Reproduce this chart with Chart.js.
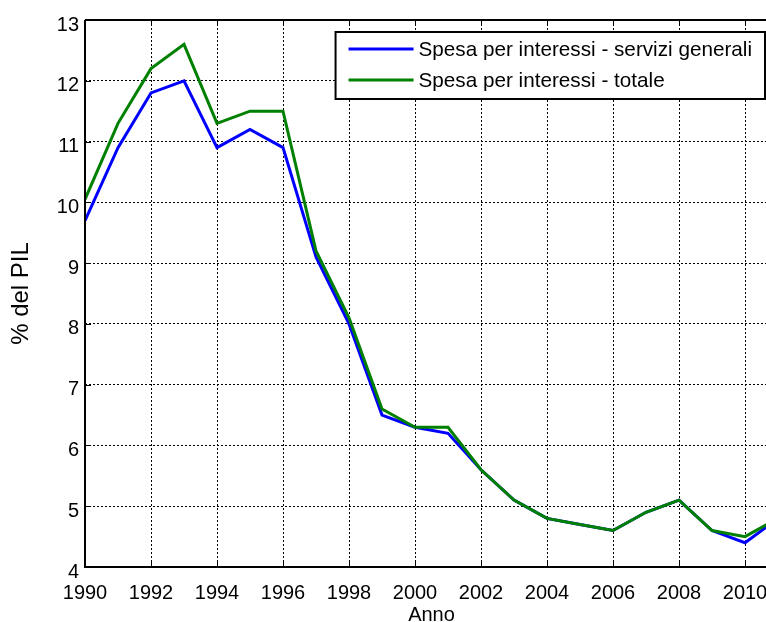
<!DOCTYPE html>
<html>
<head>
<meta charset="utf-8">
<script src="https://cdn.jsdelivr.net/npm/chart.js@4.4.1/dist/chart.umd.min.js"></script>
<style>
html,body{margin:0;padding:0;background:#fff;overflow:hidden;width:766px;height:622px;}
canvas{display:block;}
</style>
</head>
<body>
<canvas id="c" width="800" height="622"></canvas>
<script>
const years = [1990,1991,1992,1993,1994,1995,1996,1997,1998,1999,2000,2001,2002,2003,2004,2005,2006,2007,2008,2009,2010,2011];
const serviziGenerali = [9.7,10.9,11.8,12.0,10.9,11.2,10.9,9.1,8.0,6.5,6.3,6.2,5.6,5.1,4.8,4.7,4.6,4.9,5.1,4.6,4.4,4.8];
const totale = [10.05,11.3,12.2,12.6,11.3,11.5,11.5,9.2,8.1,6.6,6.3,6.3,5.6,5.1,4.8,4.7,4.6,4.9,5.1,4.6,4.5,4.8];
const xTickValues = [1990,1992,1994,1996,1998,2000,2002,2004,2006,2008,2010];
const yTickValues = [4,5,6,7,8,9,10,11,12,13];
const seriesLabels = ['Spesa per interessi - servizi generali','Spesa per interessi - totale'];
const seriesColors = ['#0000ff','#008000'];

const FONT = "'Liberation Sans', Arial, Helvetica, sans-serif";

const boxPlugin = {
  id: 'boxPlugin',
  afterDatasetsDraw(chart) {
    const {ctx, chartArea: a, scales} = chart;
    ctx.save();
    ctx.strokeStyle = '#000';
    ctx.lineWidth = 2;
    ctx.beginPath();
    ctx.moveTo(a.left, a.top); ctx.lineTo(a.left, a.bottom); ctx.lineTo(a.right, a.bottom);
    ctx.moveTo(a.left, a.top); ctx.lineTo(a.right, a.top);
    ctx.stroke();
    ctx.lineWidth = 1;
    const tl = 6;
    ctx.beginPath();
    xTickValues.forEach(v => {
      const x = Math.round(scales.x.getPixelForValue(v)) + 0.5;
      ctx.moveTo(x, a.bottom); ctx.lineTo(x, a.bottom - tl);
      ctx.moveTo(x, a.top); ctx.lineTo(x, a.top + tl);
    });
    yTickValues.forEach(v => {
      const y = Math.round(scales.y.getPixelForValue(v)) + 0.5;
      ctx.moveTo(a.left, y); ctx.lineTo(a.left + tl, y);
    });
    ctx.stroke();
    ctx.restore();
  },
  afterDraw(chart) {
    const {ctx, chartArea: a} = chart;
    ctx.save();
    ctx.font = '20.7px ' + FONT;
    const ds = chart.data.datasets;
    let maxW = 0;
    ds.forEach(d => { maxW = Math.max(maxW, ctx.measureText(d.label).width); });
    const padL = 13, lineLen = 65, gap = 5, padR = 13, rowH = 31;
    const w = padL + lineLen + gap + maxW + padR;
    const h = 67;
    const right = a.right - 13;
    const left = right - w;
    const top = a.top + 12;
    ctx.fillStyle = '#fff';
    ctx.fillRect(left, top, w, h);
    ctx.strokeStyle = '#000';
    ctx.lineWidth = 2;
    ctx.strokeRect(left, top, w, h);
    ds.forEach((d, i) => {
      const y = top + 17 + i * rowH;
      ctx.strokeStyle = d.borderColor;
      ctx.lineWidth = 3;
      ctx.beginPath();
      ctx.moveTo(left + padL, y); ctx.lineTo(left + padL + lineLen, y);
      ctx.stroke();
      ctx.fillStyle = '#000';
      ctx.textBaseline = 'middle';
      ctx.textAlign = 'left';
      ctx.fillText(d.label, left + padL + lineLen + gap, y + 1);
    });
    ctx.restore();
  }
};

const mk = (vals) => years.map((yr, i) => ({x: yr, y: vals[i]}));

new Chart(document.getElementById('c'), {
  type: 'line',
  data: {
    datasets: [
      {label: seriesLabels[0], data: mk(serviziGenerali), borderColor: seriesColors[0], backgroundColor: seriesColors[0], borderWidth: 3, pointRadius: 0, tension: 0, fill: false, order: 1},
      {label: seriesLabels[1], data: mk(totale), borderColor: seriesColors[1], backgroundColor: seriesColors[1], borderWidth: 3, pointRadius: 0, tension: 0, fill: false, order: 0}
    ]
  },
  options: {
    responsive: false,
    animation: false,
    layout: {padding: {top: 20, right: 22, left: 0, bottom: 0}},
    plugins: {legend: {display: false}, tooltip: {enabled: false}},
    scales: {
      x: {
        type: 'linear', min: 1990, max: 2011,
        afterBuildTicks: (s) => { s.ticks = xTickValues.map(v => ({value: v})); },
        afterFit: (s) => { s.height = 55; },
        ticks: {color: '#000', font: {family: FONT, size: 20}, padding: 14, maxRotation: 0, autoSkip: false, callback: (v) => String(v)},
        grid: {color: '#000', lineWidth: 1, drawTicks: false},
        border: {display: false, dash: [2, 2]},
        title: {display: true, text: 'Anno', color: '#000', font: {family: FONT, size: 20, lineHeight: 1}, padding: {top: 0, bottom: -3}}
      },
      y: {
        type: 'linear', min: 4, max: 13,
        afterBuildTicks: (s) => { s.ticks = yTickValues.map(v => ({value: v})); },
        afterFit: (s) => { s.width = 85; },
        ticks: {color: '#000', font: {family: FONT, size: 20}, padding: 6, labelOffset: 5, callback: (v) => String(v)},
        grid: {color: '#000', lineWidth: 1, drawTicks: false},
        border: {display: false, dash: [2, 2]},
        title: {display: true, text: '% del PIL', color: '#000', font: {family: FONT, size: 24, lineHeight: 1}, padding: {top: 9, bottom: 0}}
      }
    }
  },
  plugins: [boxPlugin]
});
</script>
</body>
</html>
